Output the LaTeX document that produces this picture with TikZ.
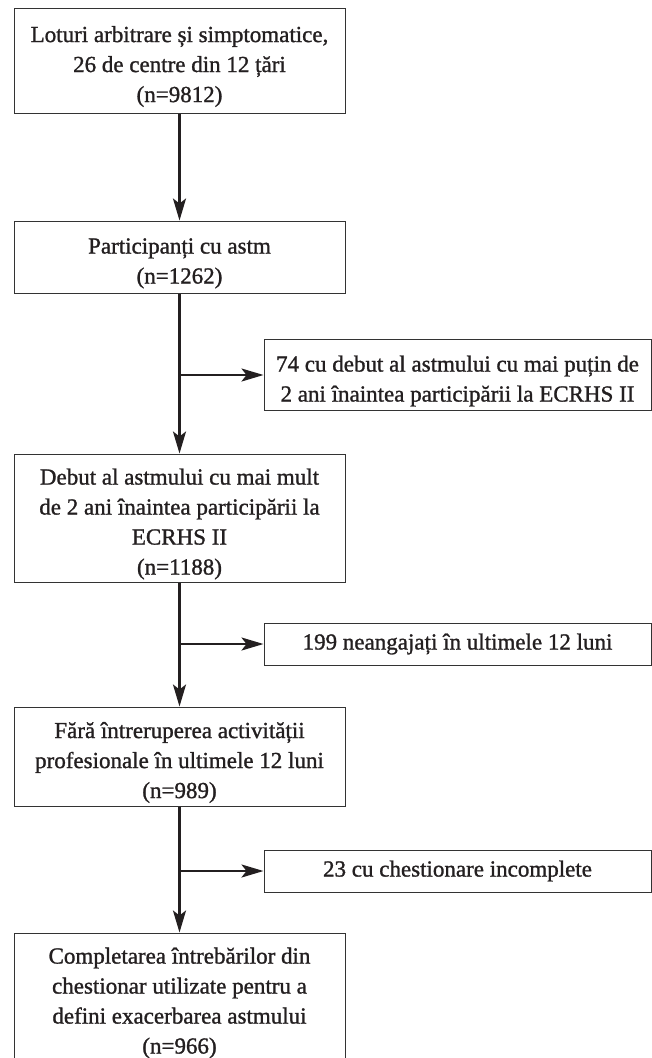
\documentclass[tikz,border=0pt]{standalone}
\usepackage{fontspec}
\setmainfont{Liberation Serif}[RawFeature={embolden=1.2}]
\usetikzlibrary{arrows.meta}
\definecolor{inkc}{HTML}{231F20}
\definecolor{boxc}{HTML}{333333}
\newcommand{\tfirst}{\rule{0pt}{28pt}}
\begin{document}
\begin{tikzpicture}[x=1pt,y=-1pt,
  box/.style={draw=boxc, line width=1pt, text=inkc, align=center,
    font=\fontsize{23}{30}\selectfont, inner sep=0pt},
  mainbox/.style={box, minimum width=331pt},
  sidebox/.style={box, minimum width=387pt},
  flow/.style={draw=inkc, line width=2.5pt,
    -{Stealth[length=22pt,width=13pt,inset=5pt]}}]
\useasboundingbox (0,0) rectangle (652,1058);

\node[mainbox, minimum height=105pt] (b1) at (179.5,60.5)
  {\tfirst Loturi arbitrare și simptomatice,\\26 de centre din 12 țări\\(n=9812)};
\node[mainbox, minimum height=72pt] (b2) at (179.5,257)
  {\tfirst Participanți cu astm\\(n=1262)};
\node[sidebox, minimum height=71pt] (s1) at (457.5,375)
  {\tfirst 74 cu debut al astmului cu mai puțin de\\2 ani înaintea participării la ECRHS II};
\node[mainbox, minimum height=128pt] (b3) at (179.5,518)
  {\tfirst Debut al astmului cu mai mult\\de 2 ani înaintea participării la\\ECRHS II\\(n=1188)};
\node[sidebox, minimum height=42pt] (s2) at (457.5,644)
  {199 neangajați în ultimele 12 luni};
\node[mainbox, minimum height=99pt] (b4) at (179.5,756.5)
  {\tfirst Fără întreruperea activității\\profesionale în ultimele 12 luni\\(n=989)};
\node[sidebox, minimum height=42pt] (s3) at (457.5,871)
  {23 cu chestionare incomplete};
\node[mainbox, minimum height=128pt] (b5) at (179.5,997)
  {\tfirst Completarea întrebărilor din\\chestionar utilizate pentru a\\defini exacerbarea astmului\\(n=966)};

\draw[flow] (b1.south) -- (b2.north);
\draw[flow] (b2.south) -- (b3.north);
\draw[flow] (b3.south) -- (b4.north);
\draw[flow] (b4.south) -- (b5.north);

\coordinate (j1) at (b2.south |- s1.west);
\coordinate (j2) at (b3.south |- s2.west);
\coordinate (j3) at (b4.south |- s3.west);
\draw[flow] (j1) -- (s1.west);
\draw[flow] (j2) -- (s2.west);
\draw[flow] (j3) -- (s3.west);
\end{tikzpicture}
\end{document}
